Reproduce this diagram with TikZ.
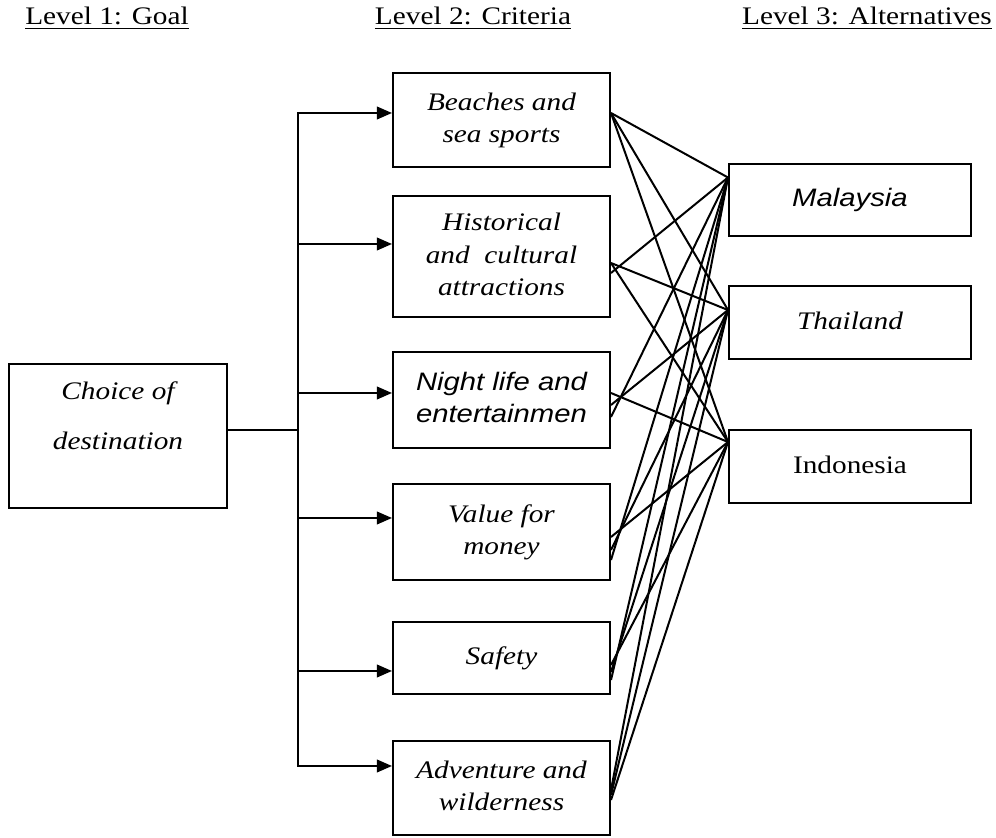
\documentclass[tikz,border=0pt]{standalone}
\usepackage{fontspec}
\usepackage{graphicx}
\setmainfont{Liberation Serif}
\newfontfamily\arialfont{Liberation Sans}
\newcommand\diagsize{\fontsize{10.1}{13.1}\selectfont}
\newcommand\widetext[1]{\scalebox{1.16}[1]{\begin{tabular}{@{}c@{}}#1\end{tabular}}}
\usetikzlibrary{arrows.meta}
\begin{document}
\begin{tikzpicture}[x=0.4pt,y=-0.4pt,line width=.8pt,
  box/.style={draw,inner sep=0pt,align=center,font=\diagsize\itshape},
  crit/.style={box,minimum width=86.8pt},
  alt/.style={box,minimum width=96.8pt},
  arrow/.style={-{Triangle[length=6pt,width=5pt]}}]
\useasboundingbox (0,0) rectangle (996,838);
\node[anchor=base,font=\diagsize] (h1) at (107,24) {\widetext{\underline{Level 1: Goal}}};
\node[anchor=base,font=\diagsize] (h2) at (473,24) {\widetext{\underline{Level 2: Criteria}}};
\node[anchor=base,font=\diagsize] (h3) at (867,24) {\widetext{\underline{Level 3: Alternatives}}};
\node[box,minimum width=87.2pt,minimum height=57.6pt] (goal) at (118,436) {};
\node[inner sep=0pt,font=\diagsize\itshape] (goaltext) at (118,418) {\widetext{Choice of\\[7pt]destination}};
\node[crit,minimum height=37.6pt] (beach) at (501.5,120) {\widetext{Beaches and\\sea sports}};
\node[crit,minimum height=48.4pt] (hist) at (501.5,256.5) {\widetext{Historical\\and\ \ cultural\\attractions}};
\node[crit,minimum height=38.4pt,font=\diagsize\arialfont\itshape] (night) at (501.5,400) {\widetext{Night life and\\entertainmen}};
\node[crit,minimum height=38.4pt] (value) at (501.5,532) {\widetext{Value for\\money}};
\node[crit,minimum height=28.8pt] (safety) at (501.5,658) {\widetext{Safety}};
\node[crit,minimum height=37.6pt] (adv) at (501.5,788) {\widetext{Adventure and\\wilderness}};
\node[alt,minimum height=28.8pt,font=\diagsize\arialfont\itshape] (mal) at (850,200) {\widetext{Malaysia}};
\node[alt,minimum height=29.2pt] (tha) at (850,322.5) {\widetext{Thailand}};
\node[alt,minimum height=29.2pt,font=\diagsize] (ind) at (850,466.5) {\widetext{Indonesia}};
\coordinate (trunk) at (298,430);
\draw (goal.east |- trunk) -- (trunk);
\foreach \c/\s in {beach/2.8,hist/5,night/2.8,value/5.6,safety/-5.2,adv/8.8}
  \draw[arrow] (trunk) |- ([yshift=\s pt]\c.west);
\coordinate (malIn) at ([yshift=9pt]mal.west);
\coordinate (thaIn) at ([yshift=5pt]tha.west);
\coordinate (indIn) at ([yshift=9.8pt]ind.west);
\foreach \c/\s/\a in {beach/2.8/mal,beach/2.8/tha,beach/2.8/ind,
    hist/-6.6/mal,hist/-2.6/tha,hist/-2.6/ind,
    night/-6.8/mal,night/-2/tha,night/2.8/ind,
    value/-11.2/mal,value/-7.2/tha,value/-2/ind,
    safety/-8.8/mal,safety/-5.6/tha,safety/-2.8/ind,
    adv/-0.8/mal,adv/-2.8/tha,adv/-4.8/ind}
  \draw ([yshift=\s pt]\c.east) -- (\a In);
\end{tikzpicture}
\end{document}
